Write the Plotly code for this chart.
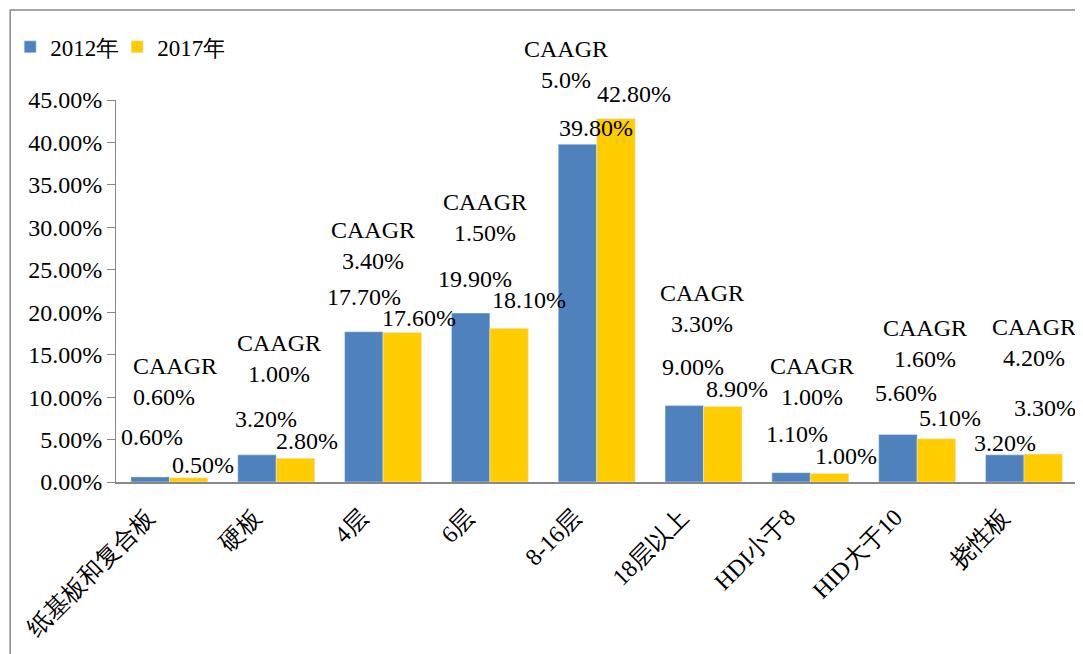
import plotly.graph_objects as go

categories = ["纸基板和复合板", "硬板", "4层", "6层", "8-16层", "18层以上", "HDI小于8", "HID大于10", "挠性板"]
values_2012 = [0.6, 3.2, 17.7, 19.9, 39.8, 9.0, 1.1, 5.6, 3.2]
values_2017 = [0.5, 2.8, 17.6, 18.1, 42.8, 8.9, 1.0, 5.1, 3.3]
caagr_labels = ["0.60%", "1.00%", "3.40%", "1.50%", "5.0%", "3.30%", "1.00%", "1.60%", "4.20%"]
y_ticks = [0, 5, 10, 15, 20, 25, 30, 35, 40, 45]

# label placement offsets (pixels), as manually positioned in the original
lab12_dx = [-17, -10, -19, -15, -1, -11, -13, -11, -19]
lab12_dy = [40, 36, 35, 34, 16, 39, 39, 41, 12]
lab17_dx = [34, 31, 36, 39, 37, 33, 36, 33, 21]
lab17_dy = [13, 17, 15, 28, 25, 17, 18, 21, 46]
cag_dx = [6, 3, -10, -5, -31, -2, 2, 8, 10]
cag_dy = [95, 96, 86, 96, 54, 97, 91, 91, 111]

BLUE = "#4F81BD"
YELLOW = "#FFCC00"
FONT = "'Liberation Serif', 'Times New Roman', serif"
AX = "#888888"

fig = go.Figure()
fig.add_trace(go.Bar(name="2012年", x=categories, y=values_2012, marker_color=BLUE))
fig.add_trace(go.Bar(name="2017年", x=categories, y=values_2017, marker_color=YELLOW))

anns = []
for i, c in enumerate(categories):
    anns.append(dict(x=c, y=values_2012[i], text=f"{values_2012[i]:.2f}%", showarrow=False,
                     xshift=lab12_dx[i], yshift=lab12_dy[i], yanchor="middle"))
    anns.append(dict(x=c, y=values_2017[i], text=f"{values_2017[i]:.2f}%", showarrow=False,
                     xshift=lab17_dx[i], yshift=lab17_dy[i], yanchor="middle"))
    top = max(values_2012[i], values_2017[i])
    anns.append(dict(x=c, y=top, text="CAAGR<br>" + caagr_labels[i], showarrow=False,
                     xshift=cag_dx[i], yshift=cag_dy[i], yanchor="middle",
                     align="left" if i == 0 else "center"))

fig.update_layout(
    width=1083, height=654,
    margin=dict(l=108, r=13, t=92, b=180, autoexpand=False),
    paper_bgcolor="white", plot_bgcolor="white",
    font=dict(family=FONT, size=24, color="black"),
    barmode="group", bargap=0.28, bargroupgap=0,
    annotations=anns,
    showlegend=True,
    legend=dict(orientation="h", x=-0.110, y=1.139, xanchor="left", yanchor="middle",
                font=dict(family=FONT, size=23), itemwidth=30, traceorder="normal",
                entrywidth=62, entrywidthmode="pixels",
                bgcolor="rgba(0,0,0,0)"),
    shapes=[dict(type="rect", xref="paper", yref="paper", x0=-0.110, x1=1.2, y0=-1.0, y1=1.2356,
                 line=dict(color=AX, width=1.5), fillcolor="rgba(0,0,0,0)", layer="below")],
)
fig.update_yaxes(range=[0, 45], tickvals=y_ticks, ticktext=[f"{v:.2f}%" for v in y_ticks],
                 showgrid=False, zeroline=False, showline=True, linecolor=AX, linewidth=1,
                 ticks="outside", ticklen=8, tickcolor=AX, tickfont=dict(size=24),
                 automargin=False)
fig.update_xaxes(tickangle=-45, showgrid=False, showline=True, linecolor=AX, linewidth=1.5,
                 tickfont=dict(size=24), automargin=False,
                 ticklabelshift=-22, ticklabelstandoff=10)

fig.write_html("out.html")
